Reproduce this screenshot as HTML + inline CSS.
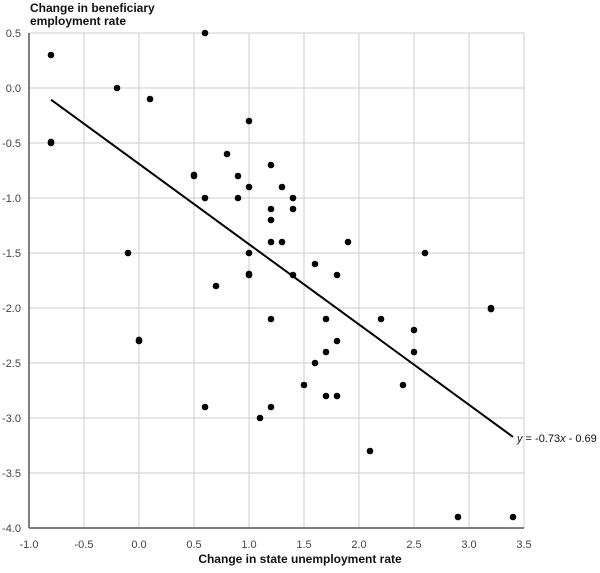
<!DOCTYPE html>
<html><head><meta charset="utf-8"><style>
body{margin:0;background:#fff;width:600px;height:568px;overflow:hidden;font-family:"Liberation Sans",Arial,sans-serif}
</style></head><body>
<svg id="s" width="600" height="568" xmlns="http://www.w3.org/2000/svg" font-family="Liberation Sans, Arial, sans-serif">
<text x="30" y="12" font-size="12" font-weight="bold" fill="#111">Change in beneficiary</text>
<text x="30" y="25" font-size="12" font-weight="bold" fill="#111">employment rate</text>
<text x="300" y="563" font-size="12" font-weight="bold" fill="#111" text-anchor="middle">Change in state unemployment rate</text>
<g id="g"></g>
</svg>
<script>
var g=document.getElementById('g'),ns='http://www.w3.org/2000/svg';
function X(v){return 29+(v+1)*110}function Y(v){return 33+(0.5-v)*110}
function el(t,a,txt){var e=document.createElementNS(ns,t);for(var k in a)e.setAttribute(k,a[k]);if(txt)e.textContent=txt;g.appendChild(e);return e}
for(var i=0;i<=9;i++){var xv=-1+i*0.5,yv=0.5-i*0.5;
 el('line',{x1:X(xv),x2:X(xv),y1:33,y2:528,stroke:'#ccc','stroke-width':1});
 el('line',{x1:29,x2:524,y1:Y(yv),y2:Y(yv),stroke:'#ccc','stroke-width':1});
 el('text',{x:X(xv),y:548,'font-size':11,fill:'#444','text-anchor':'middle'},xv.toFixed(1));
 el('text',{x:21,y:Y(yv)+4,'font-size':11,fill:'#444','text-anchor':'end'},yv.toFixed(1));}
el('line',{x1:29,x2:29,y1:33,y2:528,stroke:'#555','stroke-width':1.5});
el('line',{x1:29,x2:524,y1:528,y2:528,stroke:'#555','stroke-width':1.5});
el('line',{x1:X(-0.8),y1:Y(-0.8*-0.73-0.69),x2:X(3.4),y2:Y(3.4*-0.73-0.69),stroke:'#000','stroke-width':2});
var t=el('text',{x:517,y:442,'font-size':11,fill:'#111'});
t.innerHTML='<tspan font-style="italic">y</tspan> = -0.73<tspan font-style="italic">x</tspan> - 0.69';
var d=[[-0.8,0.3],[-0.8,-0.5],[-0.8,-0.49],[-0.2,0],[0.1,-0.1],[0.6,0.5],[1.0,-0.3],[0.8,-0.6],[1.2,-0.7],[0.5,-0.8],[0.5,-0.79],[0.9,-0.8],[1.3,-0.9],[1.0,-0.9],[0.6,-1.0],[0.9,-1.0],[1.4,-1.0],[1.2,-1.1],[1.4,-1.1],[1.2,-1.2],[1.2,-1.4],[1.3,-1.4],[1.9,-1.4],[-0.1,-1.5],[1.0,-1.5],[2.6,-1.5],[1.6,-1.6],[1.0,-1.7],[1.0,-1.69],[1.4,-1.7],[1.8,-1.7],[0.7,-1.8],[3.2,-2.0],[3.2,-2.01],[1.2,-2.1],[1.7,-2.1],[2.2,-2.1],[2.5,-2.2],[0.0,-2.3],[0.0,-2.29],[1.8,-2.3],[1.7,-2.4],[2.5,-2.4],[1.6,-2.5],[1.5,-2.7],[2.4,-2.7],[1.7,-2.8],[1.8,-2.8],[0.6,-2.9],[1.2,-2.9],[1.1,-3.0],[2.1,-3.3],[2.9,-3.9],[3.4,-3.9]];
d.forEach(function(p){el('circle',{cx:X(p[0]),cy:Y(p[1]),r:3.3,fill:'#000'})});
</script>
</body></html>
